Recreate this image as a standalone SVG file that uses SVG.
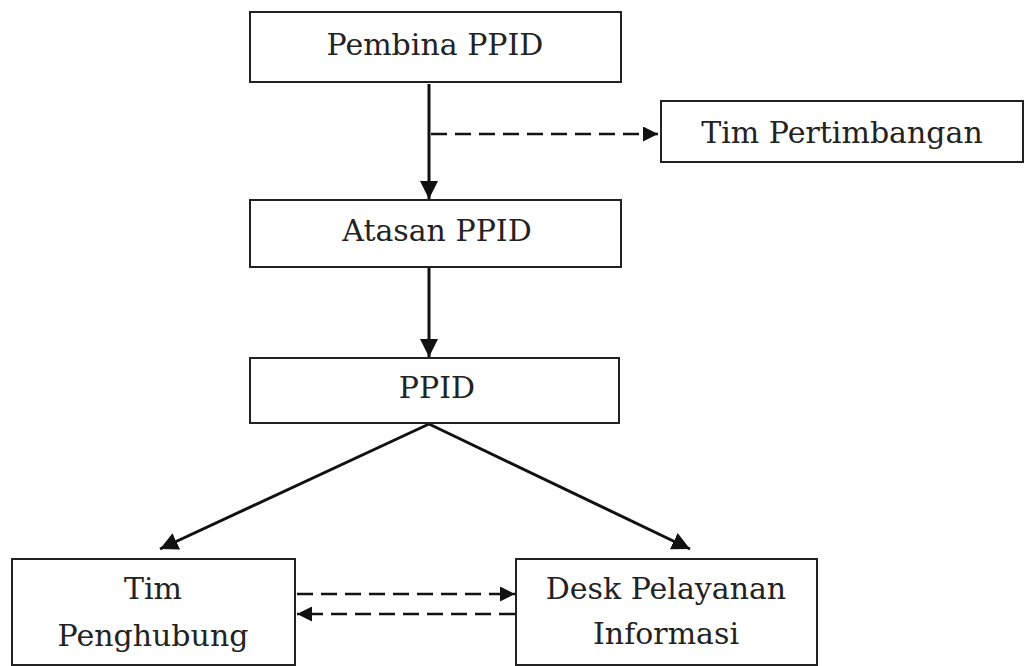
<svg xmlns="http://www.w3.org/2000/svg" width="1029" height="666" viewBox="0 0 1029 666">
<style>
.box{fill:#fff;stroke:#222;stroke-width:2}
.t{font-family:"DejaVu Serif","Liberation Serif",serif;font-size:30px;fill:#222;text-anchor:middle}
.solid{stroke:#111;stroke-width:3;fill:none}
.dash{stroke:#111;stroke-width:2.5;fill:none;stroke-dasharray:16 8}
</style>
<defs>
<marker id="ah" viewBox="0 0 10 10" refX="10" refY="5" markerWidth="6" markerHeight="6" markerUnits="strokeWidth" orient="auto">
<path d="M0,0 L10,5 L0,10 z" fill="#111"/>
</marker>
<marker id="ahd" viewBox="0 0 10 10" refX="10" refY="5" markerWidth="6" markerHeight="6" markerUnits="strokeWidth" orient="auto">
<path d="M0,0 L10,5 L0,10 z" fill="#111"/>
</marker>
</defs>
<rect width="1029" height="666" fill="#fff"/>
<g id="connectors">
<line class="solid" x1="429" y1="84" x2="429" y2="199" marker-end="url(#ah)"/>
<line class="dash" x1="431" y1="134" x2="658" y2="134" marker-end="url(#ahd)"/>
<line class="solid" x1="429" y1="268" x2="429" y2="357" marker-end="url(#ah)"/>
<line class="solid" x1="429" y1="424" x2="160" y2="549" marker-end="url(#ah)"/>
<line class="solid" x1="429" y1="424" x2="690" y2="549" marker-end="url(#ah)"/>
<line class="dash" x1="297" y1="594" x2="515" y2="594" marker-end="url(#ahd)"/>
<line class="dash" x1="515" y1="614" x2="297" y2="614" marker-end="url(#ahd)"/>
</g>
<g id="pembina">
<rect class="box" x="250" y="12" width="371" height="70"/>
<text class="t" x="435" y="55">Pembina PPID</text>
</g>
<g id="tim-pertimbangan">
<rect class="box" x="661" y="101" width="362" height="61"/>
<text class="t" x="842" y="143">Tim Pertimbangan</text>
</g>
<g id="atasan">
<rect class="box" x="250" y="200" width="371" height="67"/>
<text class="t" x="437" y="241">Atasan PPID</text>
</g>
<g id="ppid">
<rect class="box" x="250" y="358" width="369" height="65"/>
<text class="t" x="437" y="398">PPID</text>
</g>
<g id="tim-penghubung">
<rect class="box" x="12" y="559" width="283" height="106"/>
<text class="t" x="153" y="599">Tim</text>
<text class="t" x="153" y="646">Penghubung</text>
</g>
<g id="desk">
<rect class="box" x="516" y="559" width="301" height="106"/>
<text class="t" x="666" y="599">Desk Pelayanan</text>
<text class="t" x="666" y="644">Informasi</text>
</g>
</svg>
